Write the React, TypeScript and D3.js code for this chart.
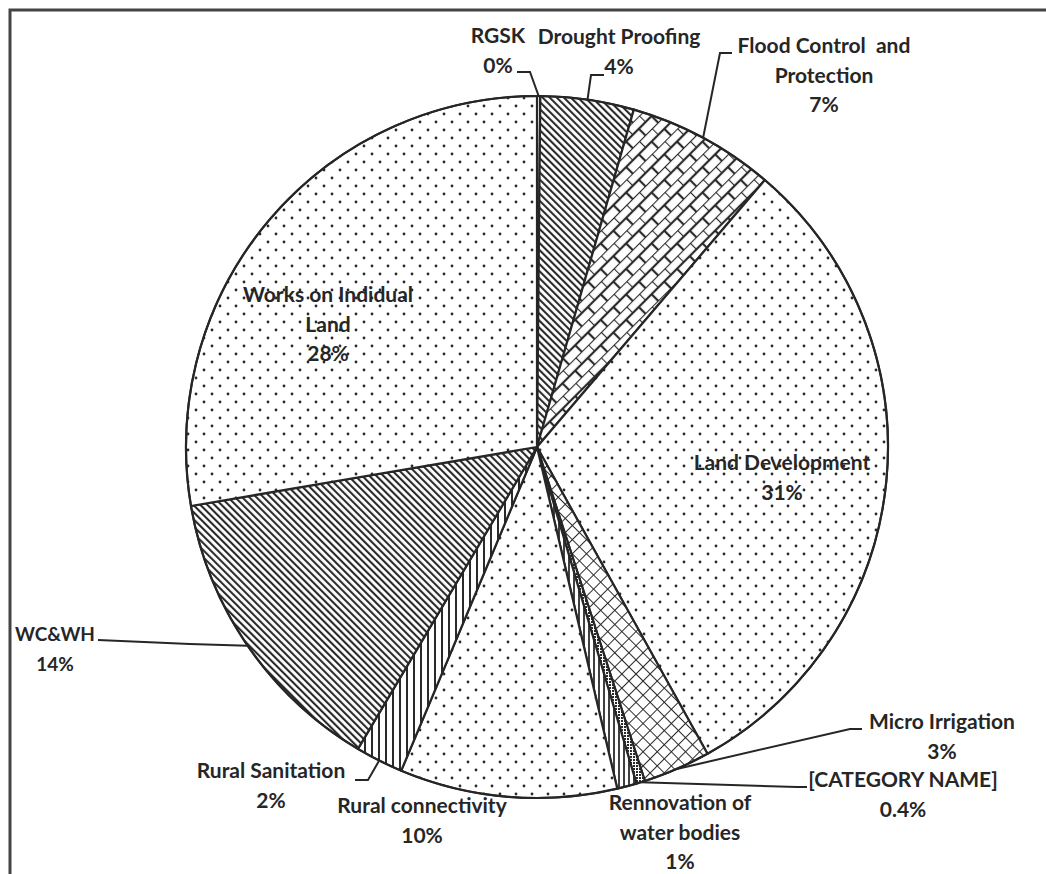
import React from "react";
import * as d3 from "d3";

const categories = [
  "RGSK",
  "Drought Proofing",
  "Flood Control  and Protection",
  "Land Development",
  "Micro Irrigation",
  "[CATEGORY NAME]",
  "Rennovation of water bodies",
  "Rural connectivity",
  "Rural Sanitation",
  "WC&WH",
  "Works on Indidual Land",
];
const values = [0.15, 4.3, 6.8, 30.7, 3.1, 0.4, 0.9, 10.0, 2.2, 13.8, 27.7];
const percentLabels = ["0%", "4%", "7%", "31%", "3%", "0.4%", "1%", "10%", "2%", "14%", "28%"];
const labelLines = [
  ["RGSK"],
  ["Drought Proofing"],
  ["Flood Control  and", "Protection"],
  ["Land Development"],
  ["Micro Irrigation"],
  ["[CATEGORY NAME]"],
  ["Rennovation of", "water bodies"],
  ["Rural connectivity"],
  ["Rural Sanitation"],
  ["WC&WH"],
  ["Works on Indidual", "Land"],
];
const patterns = [
  "vlines",
  "diag",
  "brick",
  "dots",
  "cross",
  "fine",
  "vlinesTight",
  "dots",
  "vlines",
  "diag",
  "dots",
];

// layout (styles): label anchor (center x, first baseline y), leader elbow
const W = 1046, H = 874;
const CX = 537, CY = 447, R = 351;
const LINE_GAP = 29.5;
const labelLayout: Record<string, { x: number; y: number; size?: number; leader?: [number, number][] }> = {
  "RGSK": { x: 498, y: 43, leader: [[517, 72], [530, 72]] },
  "Drought Proofing": { x: 619, y: 44, leader: [[604, 75], [591, 75]] },
  "Flood Control  and Protection": { x: 824, y: 53, leader: [[732, 53], [720, 53]] },
  "Land Development": { x: 782, y: 470 },
  "Micro Irrigation": { x: 942, y: 729, leader: [[862, 729], [850, 729]] },
  "[CATEGORY NAME]": { x: 903, y: 787, leader: [[807, 787], [797, 787]] },
  "Rennovation of water bodies": { x: 680, y: 810 },
  "Rural connectivity": { x: 422, y: 813 },
  "Rural Sanitation": { x: 271, y: 778, leader: [[355, 780], [368, 780]] },
  "WC&WH": { x: 55, y: 641, size: 19, leader: [[98, 640], [190, 644]] },
  "Works on Indidual Land": { x: 328, y: 302 },
};

const INK = "#262626";

export default function App() {
  const pie = d3.pie<number>().sort(null).value((d) => d)(values);
  const arc = d3.arc<d3.PieArcDatum<number>>().innerRadius(0).outerRadius(R);

  return (
    <div style={{ position: "absolute", left: 0, top: 0 }}>
      <svg width={W} height={H} style={{ display: "block", background: "#fff" }}>
        <defs>
          <pattern id="dots" width="16" height="16" patternUnits="userSpaceOnUse">
            <rect width="16" height="16" fill="#fff" />
            <circle cx="3" cy="3" r="1.4" fill="#2a2a2a" />
            <circle cx="11" cy="11" r="1.4" fill="#2a2a2a" />
          </pattern>
          <pattern id="diag" width="5" height="5" patternUnits="userSpaceOnUse" patternTransform="rotate(-45)">
            <rect width="5" height="5" fill="#fff" />
            <line x1="1" y1="0" x2="1" y2="5" stroke="#2a2a2a" strokeWidth="2.2" />
          </pattern>
          <pattern id="vlines" width="7" height="7" patternUnits="userSpaceOnUse">
            <rect width="7" height="7" fill="#fff" />
            <line x1="3" y1="0" x2="3" y2="7" stroke="#2a2a2a" strokeWidth="2" />
          </pattern>
          <pattern id="vlinesTight" width="5" height="5" patternUnits="userSpaceOnUse">
            <rect width="5" height="5" fill="#fff" />
            <line x1="2" y1="0" x2="2" y2="5" stroke="#2a2a2a" strokeWidth="1.8" />
          </pattern>
          <pattern id="cross" width="10" height="10" patternUnits="userSpaceOnUse" patternTransform="rotate(45)">
            <rect width="10" height="10" fill="#fff" />
            <line x1="0" y1="0" x2="10" y2="0" stroke="#2a2a2a" strokeWidth="2" />
            <line x1="0" y1="0" x2="0" y2="10" stroke="#2a2a2a" strokeWidth="2" />
          </pattern>
          <pattern id="fine" width="3" height="3" patternUnits="userSpaceOnUse">
            <rect width="3" height="3" fill="#fff" />
            <rect width="2" height="2" fill="#2a2a2a" />
          </pattern>
          <pattern id="brick" width="18" height="18" patternUnits="userSpaceOnUse" patternTransform="rotate(-45)">
            <rect width="18" height="18" fill="#fff" />
            <line x1="0" y1="0" x2="18" y2="0" stroke="#2a2a2a" strokeWidth="2.2" />
            <line x1="0" y1="9" x2="18" y2="9" stroke="#2a2a2a" strokeWidth="2.2" />
            <line x1="0" y1="0" x2="0" y2="9" stroke="#2a2a2a" strokeWidth="2.2" />
            <line x1="9" y1="9" x2="9" y2="18" stroke="#2a2a2a" strokeWidth="2.2" />
          </pattern>
        </defs>

        {/* frame */}
        <path d={`M10,${H} L10,10 L${W},10`} fill="none" stroke="#444" strokeWidth={3} />

        <g transform={`translate(${CX},${CY})`}>
          {pie.map((p, i) => (
            <path
              key={categories[i]}
              d={arc(p) || ""}
              fill={`url(#${patterns[i]})`}
              stroke={INK}
              strokeWidth={2.2}
              strokeLinejoin="round"
            />
          ))}
          <circle r={R} fill="none" stroke={INK} strokeWidth={2} />
        </g>

        {/* leaders */}
        {pie.map((p, i) => {
          const lay = labelLayout[categories[i]];
          if (!lay || !lay.leader) return null;
          const a = (p.startAngle + p.endAngle) / 2;
          const end: [number, number] = [CX + R * Math.sin(a), CY - R * Math.cos(a)];
          const pts = [...lay.leader, end];
          return (
            <polyline
              key={"l" + i}
              points={pts.map((q) => q.join(",")).join(" ")}
              fill="none"
              stroke={INK}
              strokeWidth={2}
            />
          );
        })}

        {/* labels */}
        {categories.map((c, i) => {
          const lay = labelLayout[c];
          const lines = [...labelLines[i], percentLabels[i]];
          return (
            <text
              key={"t" + i}
              x={lay.x}
              y={lay.y}
              textAnchor="middle"
              fontFamily="Lato, 'Open Sans', sans-serif"
              fontWeight={700}
              fontSize={lay.size || 21}
              fill={INK}
            >
              {lines.map((ln, j) => (
                <tspan key={j} x={lay.x} y={lay.y + j * LINE_GAP} style={{ whiteSpace: "pre" }}>
                  {ln}
                </tspan>
              ))}
            </text>
          );
        })}
      </svg>
    </div>
  );
}
